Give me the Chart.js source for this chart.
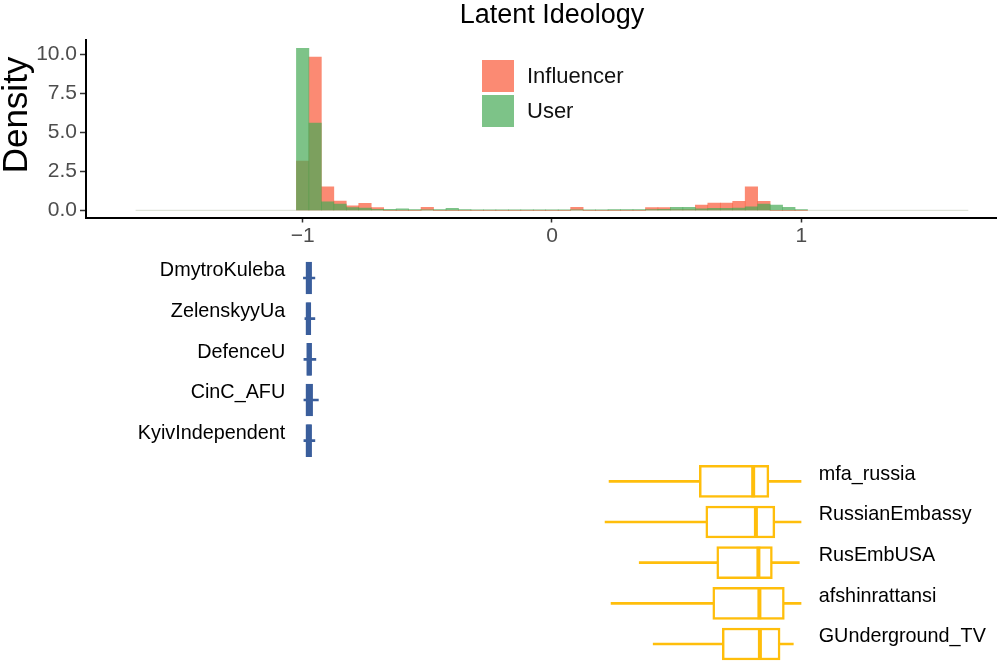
<!DOCTYPE html>
<html>
<head>
<meta charset="utf-8">
<script src="https://cdn.jsdelivr.net/npm/chart.js@4.4.1/dist/chart.umd.min.js"></script>
<style>
  body { margin: 0; background: #fff; overflow: hidden; }
  #wrap { position: relative; width: 997px; height: 667px; }
  canvas { position: absolute; left: 0; }
</style>
</head>
<body>
<div id="wrap">
  <canvas id="hist" width="997" height="250" style="top:0"></canvas>
  <canvas id="boxes" width="997" height="417" style="top:250px"></canvas>
</div>
<script>
// histogram bins (centre of each 0.05 wide bin)
var binCenters = [-1.00, -0.95, -0.90, -0.85, -0.80, -0.75, -0.70, -0.65, -0.60, -0.55,
                  -0.50, -0.45, -0.40, -0.35, -0.30, -0.25, -0.20, -0.15, -0.10, -0.05,
                   0.00,  0.05,  0.10,  0.15,  0.20,  0.25,  0.30,  0.35,  0.40,  0.45,
                   0.50,  0.55,  0.60,  0.65,  0.70,  0.75,  0.80,  0.85,  0.90,  0.95, 1.00];
var influencerDensity = [3.16, 9.83, 1.51, 0.60, 0.29, 0.45, 0.18, 0.00, 0.00, 0.00,
                         0.20, 0.00, 0.00, 0.00, 0.00, 0.00, 0.00, 0.00, 0.00, 0.00,
                         0.00, 0.00, 0.20, 0.00, 0.00, 0.00, 0.00, 0.00, 0.17, 0.17,
                         0.05, 0.05, 0.34, 0.47, 0.47, 0.58, 1.51, 0.58, 0.00, 0.00, 0.00];
var userDensity = [10.38, 5.59, 0.55, 0.40, 0.18, 0.15, 0.06, 0.06, 0.10, 0.04,
                   0.03, 0.04, 0.12, 0.04, 0.02, 0.03, 0.03, 0.02, 0.03, 0.03,
                   0.03, 0.02, 0.02, 0.02, 0.02, 0.04, 0.04, 0.04, 0.04, 0.06,
                   0.20, 0.20, 0.10, 0.12, 0.12, 0.15, 0.22, 0.40, 0.34, 0.19, 0.04];
var densityTicks = [0, 2.5, 5, 7.5, 10];
var ideologyTicks = [-1, 0, 1];

// per account boxplots
var accounts = ['DmytroKuleba', 'ZelenskyyUa', 'DefenceU', 'CinC_AFU', 'KyivIndependent',
                'mfa_russia', 'RussianEmbassy', 'RusEmbUSA', 'afshinrattansi', 'GUnderground_TV'];
var sides = ['ua', 'ua', 'ua', 'ua', 'ua', 'ru', 'ru', 'ru', 'ru', 'ru'];
var whiskerLow  = [-0.997, -0.991, -0.995, -0.995, -0.995, 0.229, 0.213, 0.350, 0.237, 0.406];
var q1          = [-0.987, -0.987, -0.984, -0.987, -0.987, 0.591, 0.617, 0.661, 0.645, 0.683];
var median      = [-0.975, -0.976, -0.974, -0.974, -0.975, 0.807, 0.818, 0.828, 0.832, 0.834];
var q3          = [-0.964, -0.967, -0.964, -0.960, -0.964, 0.870, 0.894, 0.884, 0.932, 0.915];
var whiskerHigh = [-0.951, -0.951, -0.947, -0.937, -0.951, 0.999, 0.999, 0.992, 0.999, 0.968];
// where the name text is anchored on the ideology axis
var labelAnchor = { ua: -1.07, ru: 1.07 };

var FONT = '"Liberation Sans", Arial, sans-serif';
var xMin = -1.869, xMax = 1.781;
var redFill = 'rgba(250, 88, 55, 0.7)';
var greenFill = 'rgba(70, 170, 85, 0.7)';
var sideColor = { ua: '#3A5E9C', ru: '#FFBE0B' };

// titles + legend drawn by hand (ggplot puts the legend inside the panel)
var histDecor = {
    id: 'histDecor',
    afterDraw: function (chart) {
        var ctx = chart.ctx;
        ctx.save();
        ctx.fillStyle = '#000';
        ctx.textAlign = 'center';
        ctx.textBaseline = 'alphabetic';
        ctx.font = '27px ' + FONT;
        ctx.fillText('Latent Ideology', 552, 23);

        ctx.save();
        ctx.translate(27, 115);
        ctx.rotate(-Math.PI / 2);
        ctx.font = '35px ' + FONT;
        ctx.fillText('Density', 0, 0);
        ctx.restore();

        var ds = chart.data.datasets;
        ctx.fillStyle = ds[0].backgroundColor;
        ctx.fillRect(482, 60, 32, 32);
        ctx.fillStyle = ds[1].backgroundColor;
        ctx.fillRect(482, 95, 32, 32);
        ctx.fillStyle = '#111';
        ctx.textAlign = 'left';
        ctx.textBaseline = 'middle';
        ctx.font = '22px ' + FONT;
        ctx.fillText(ds[0].label, 527, 77);
        ctx.fillText(ds[1].label, 527, 112);
        ctx.restore();
    }
};

var histCtx = document.getElementById('hist');
var histChart = new Chart(histCtx, {
    type: 'bar',
    data: {
        datasets: [{
            label: 'Influencer',
            data: binCenters.map(function (c, i) { return { x: c, y: influencerDensity[i] }; }),
            backgroundColor: redFill,
            borderWidth: 0,
            grouped: false,
            barPercentage: 1,
            categoryPercentage: 1,
            order: 1
        }, {
            label: 'User',
            data: binCenters.map(function (c, i) { return { x: c, y: userDensity[i] }; }),
            backgroundColor: greenFill,
            borderWidth: 0,
            grouped: false,
            barPercentage: 1,
            categoryPercentage: 1,
            order: 0
        }, {
            // faint zero line ggplot leaves for the empty bins
            type: 'line',
            label: 'baseline',
            data: [{ x: -1.67, y: 0 }, { x: 1.67, y: 0 }],
            borderColor: 'rgba(205, 212, 195, 0.8)',
            borderWidth: 1,
            pointRadius: 0,
            order: 2
        }]
    },
    options: {
        responsive: false,
        animation: false,
        layout: { autoPadding: false, padding: { top: 40, right: 1, left: 0, bottom: 0 } },
        plugins: { legend: { display: false }, tooltip: { enabled: false } },
        scales: {
            x: {
                type: 'linear',
                min: xMin,
                max: xMax,
                offset: false,
                border: { display: true, color: '#000', width: 2 },
                grid: { offset: false, drawOnChartArea: false, tickColor: '#333', tickLength: 5, tickWidth: 1.5 },
                afterBuildTicks: function (s) { s.ticks = ideologyTicks.map(function (v) { return { value: v }; }); },
                ticks: {
                    color: '#4d4d4d',
                    font: { size: 21, family: FONT },
                    padding: 1,
                    callback: function (v) { return v < 0 ? '\u2212' + Math.abs(v) : String(v); }
                },
                afterFit: function (s) { s.height = 32.5; }
            },
            y: {
                min: -0.46,
                max: 10.92,
                border: { display: true, color: '#000', width: 2 },
                grid: { drawOnChartArea: false, tickColor: '#333', tickLength: 6, tickWidth: 1.5 },
                afterBuildTicks: function (s) { s.ticks = densityTicks.map(function (v) { return { value: v }; }); },
                ticks: {
                    color: '#4d4d4d',
                    font: { size: 21, family: FONT },
                    padding: 3,
                    callback: function (v) { return Number(v).toFixed(1); }
                },
                afterFit: function (s) { s.width = 86; }
            }
        }
    },
    plugins: [histDecor]
});

// account names next to the boxes
var boxLabels = {
    id: 'boxLabels',
    afterDatasetsDraw: function (chart) {
        var ctx = chart.ctx;
        var xs = chart.scales.x, ys = chart.scales.y;
        ctx.save();
        ctx.fillStyle = '#000';
        ctx.font = '19.8px ' + FONT;
        ctx.textBaseline = 'middle';
        for (var i = 0; i < accounts.length; i++) {
            var y = ys.getPixelForValue(i) - 7;
            ctx.textAlign = sides[i] === 'ua' ? 'right' : 'left';
            ctx.fillText(accounts[i], xs.getPixelForValue(labelAnchor[sides[i]]), y);
        }
        ctx.restore();
    }
};

var colors = sides.map(function (s) { return sideColor[s]; });

var boxCtx = document.getElementById('boxes');
var boxChart = new Chart(boxCtx, {
    type: 'bar',
    data: {
        labels: accounts,
        datasets: [{
            label: 'whisker',
            data: accounts.map(function (a, i) { return [whiskerLow[i], whiskerHigh[i]]; }),
            backgroundColor: colors,
            borderWidth: 0,
            barThickness: 2,
            grouped: false,
            order: 2
        }, {
            label: 'box',
            data: accounts.map(function (a, i) { return [q1[i], q3[i]]; }),
            backgroundColor: '#fff',
            borderColor: colors,
            borderWidth: 2.5,
            borderSkipped: false,
            barThickness: 32,
            grouped: false,
            order: 1
        }, {
            type: 'scatter',
            label: 'median',
            data: accounts.map(function (a, i) { return { x: median[i], y: a }; }),
            pointStyle: 'line',
            rotation: 90,
            pointRadius: 16,
            borderColor: colors,
            borderWidth: 4,
            order: 0
        }]
    },
    options: {
        indexAxis: 'y',
        responsive: false,
        animation: false,
        layout: { autoPadding: false, padding: { top: 7.7, right: 1, left: 86, bottom: 2.7 } },
        plugins: { legend: { display: false }, tooltip: { enabled: false } },
        scales: {
            x: { type: 'linear', min: xMin, max: xMax, display: false },
            y: { type: 'category', display: false }
        }
    },
    plugins: [boxLabels]
});
</script>
</body>
</html>
